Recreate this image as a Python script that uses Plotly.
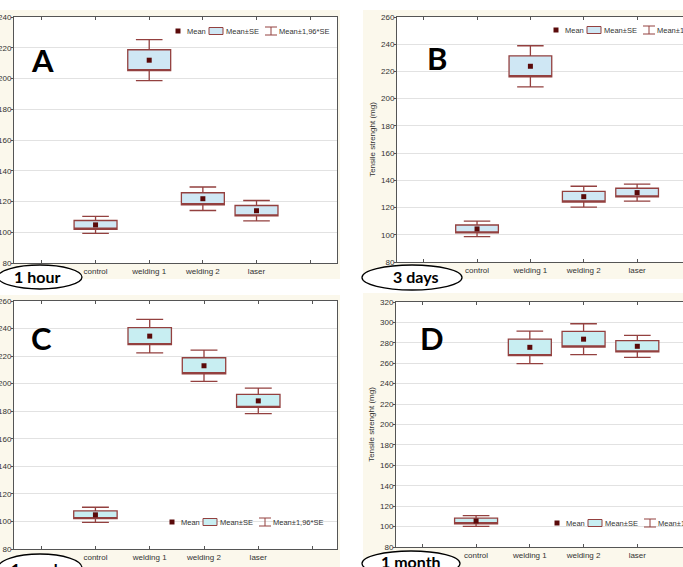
import plotly.graph_objects as go

W, H = 683, 567

categories = ["control", "welding 1", "welding 2", "laser"]
cat_pos = [0, 1, 2, 3]

# Mean and standard error (mg)
mean_A = [104.8, 211.9, 121.8, 114.0]
se_A = [2.85, 6.8, 3.9, 3.4]
mean_B = [104.3, 223.8, 128.0, 131.0]
se_B = [2.9, 7.7, 3.9, 3.2]
mean_C = [104.8, 234.5, 213.0, 187.5]
se_C = [2.8, 6.2, 5.8, 4.7]
mean_D = [105.5, 275.6, 283.6, 276.6]
se_D = [2.7, 8.1, 7.7, 5.5]

panel_letters = ["A", "B", "C", "D"]
time_labels = ["1 hour", "3 days", "1 week", "1 month"]
y_title = "Tensile strenght (mg)"
legend_texts = ["Mean", "Mean±SE", "Mean±1,96*SE"]

BOX_LINE = "#93403f"
MEAN_COL = "#5a0a0a"
FILL_AB = "#cfe7f4"
FILL_CD = "#c8eef2"
CREAM = "#fbf8ec"
TXT = "#333333"
FONT = "Liberation Sans, Arial, sans-serif"


def px(x):
    return x / W


def py(y):
    return 1 - y / H


panels = [
    dict(m=mean_A, s=se_A, fill=FILL_AB, box=(14, 17, 337, 263), xr=[-1.52, 4.5], yr=[80, 240],
         ytitle=False, mirror=True, cream=(0, 10, 340, 279), letter=(42, 60), ell=(-2, 265, 82, 289), lab=(37, 277),
         leg=(178, 31)),
    dict(m=mean_B, s=se_B, fill=FILL_AB, box=(397, 17, 683, 262), xr=[-1.5, 3.86], yr=[80, 260],
         ytitle=True, mirror=False, cream=(363, 10, 683, 279), letter=(437, 58), ell=(362, 265, 462, 290), lab=(415, 277),
         leg=(556, 30)),
    dict(m=mean_C, s=se_C, fill=FILL_CD, box=(14, 301, 337, 549), xr=[-1.5, 4.45], yr=[80, 260],
         ytitle=False, mirror=True, cream=(0, 295, 340, 567), letter=(41, 338), ell=(-2, 554, 82, 582), lab=(37, 568),
         leg=(172, 522)),
    dict(m=mean_D, s=se_D, fill=FILL_CD, box=(396, 302, 683, 547), xr=[-1.49, 3.85], yr=[80, 320],
         ytitle=True, mirror=False, cream=(363, 293, 683, 567), letter=(432, 338), ell=(362, 551, 460, 576), lab=(411, 561),
         leg=(557, 523)),
]

fig = go.Figure()
shapes = []
annotations = []

for i, p in enumerate(panels):
    n = "" if i == 0 else str(i + 1)
    xa, ya = "x" + n, "y" + n
    m, s = p["m"], p["s"]
    q1 = [a - b for a, b in zip(m, s)]
    q3 = [a + b for a, b in zip(m, s)]
    lo = [a - 1.96 * b for a, b in zip(m, s)]
    hi = [a + 1.96 * b for a, b in zip(m, s)]

    fig.add_trace(go.Box(
        x=cat_pos, q1=q1, median=q1, q3=q3, lowerfence=lo, upperfence=hi,
        width=0.8, whiskerwidth=0.62, fillcolor=p["fill"],
        line=dict(color=BOX_LINE, width=1.3), boxpoints=False,
        xaxis=xa, yaxis=ya, showlegend=False, hoverinfo="skip"))
    fig.add_trace(go.Scatter(
        x=cat_pos, y=m, mode="markers",
        marker=dict(symbol="square", size=5, color=MEAN_COL),
        xaxis=xa, yaxis=ya, showlegend=False, hoverinfo="skip"))

    l, t, r, b = p["box"]
    xdom = [px(l), min(1.0, px(r))]
    ydom = [py(b), py(t)]
    xkey = "xaxis" + n
    ykey = "yaxis" + n
    fig.layout[xkey] = dict(
        domain=xdom, range=p["xr"], anchor=ya, automargin=False,
        tickvals=[-1, 0, 1, 2, 3, 4], ticktext=[""] + categories + [""],
        ticks="inside", ticklen=3, tickcolor="#555", mirror="allticks",
        showline=True, linecolor="#555", linewidth=1, showgrid=False, zeroline=False,
        tickfont=dict(family=FONT, size=8, color=TXT), fixedrange=True)
    fig.layout[ykey] = dict(
        domain=ydom, range=p["yr"], anchor=xa, dtick=20, automargin=False,
        ticks="outside", ticklen=2, tickcolor="#555", mirror=p["mirror"],
        ticklabelstandoff=-2,
        showline=True, linecolor="#555", linewidth=1,
        showgrid=True, gridcolor="#e2e2e2", gridwidth=1, zeroline=False,
        tickfont=dict(family=FONT, size=8, color=TXT), fixedrange=True,
        title=dict(text=y_title if p["ytitle"] else "", font=dict(family=FONT, size=8, color=TXT), standoff=4))

    cl, ct, cr, cb = p["cream"]
    shapes.append(dict(type="rect", xref="paper", yref="paper", x0=px(cl), x1=px(cr), y0=py(cb), y1=py(ct),
                       fillcolor=CREAM, line=dict(width=0), layer="below"))
    shapes.append(dict(type="rect", xref="paper", yref="paper", x0=px(l), x1=px(min(r, W + 5)), y0=py(b), y1=py(t),
                       fillcolor="white", line=dict(width=0), layer="below"))

    lx, ly = p["letter"]
    annotations.append(dict(x=px(lx), y=py(ly), xref="paper", yref="paper", text="<b>%s</b>" % panel_letters[i],
                            showarrow=False, xanchor="center", yanchor="middle",
                            font=dict(family="Lato, sans-serif", size=31, color="black")))

    el, et, er, eb = p["ell"]
    shapes.append(dict(type="circle", xref="paper", yref="paper", x0=px(el), x1=px(er), y0=py(eb), y1=py(et),
                       fillcolor="white", line=dict(color="black", width=1.3), layer="above"))
    tx, ty = p["lab"]
    annotations.append(dict(x=px(tx), y=py(ty), xref="paper", yref="paper", text="<b>%s</b>" % time_labels[i],
                            showarrow=False, xanchor="center", yanchor="middle",
                            font=dict(family="Lato, sans-serif", size=16, color="black")))

    mx, my = p["leg"]
    shapes.append(dict(type="rect", xref="paper", yref="paper", x0=px(mx - 2.5), x1=px(mx + 2.5),
                       y0=py(my + 2.5), y1=py(my - 2.5), fillcolor=MEAN_COL, line=dict(width=0), layer="above"))
    shapes.append(dict(type="rect", xref="paper", yref="paper", x0=px(mx + 31), x1=px(mx + 45),
                       y0=py(my + 3.5), y1=py(my - 3.5), fillcolor=p["fill"],
                       line=dict(color=BOX_LINE, width=1), layer="above"))
    wx = mx + 93
    for seg in [((wx, my - 4), (wx, my + 4)), ((wx - 6, my - 4), (wx + 6, my - 4)), ((wx - 6, my + 4), (wx + 6, my + 4))]:
        (x0, y0), (x1, y1) = seg
        shapes.append(dict(type="line", xref="paper", yref="paper", x0=px(x0), x1=px(x1), y0=py(y0), y1=py(y1),
                           line=dict(color=BOX_LINE, width=1), layer="above"))
    for off, txt in zip([7, 46, 99], legend_texts):
        annotations.append(dict(x=px(mx + off), y=py(my), xref="paper", yref="paper", text=txt,
                                showarrow=False, xanchor="left", yanchor="middle",
                                font=dict(family=FONT, size=7.5, color=TXT)))

fig.update_layout(
    template="none",
    width=W, height=H, margin=dict(l=0, r=0, t=0, b=0, autoexpand=False),
    paper_bgcolor="white", plot_bgcolor="rgba(0,0,0,0)",
    shapes=shapes, annotations=annotations, showlegend=False,
)

fig.write_html("out.html")
